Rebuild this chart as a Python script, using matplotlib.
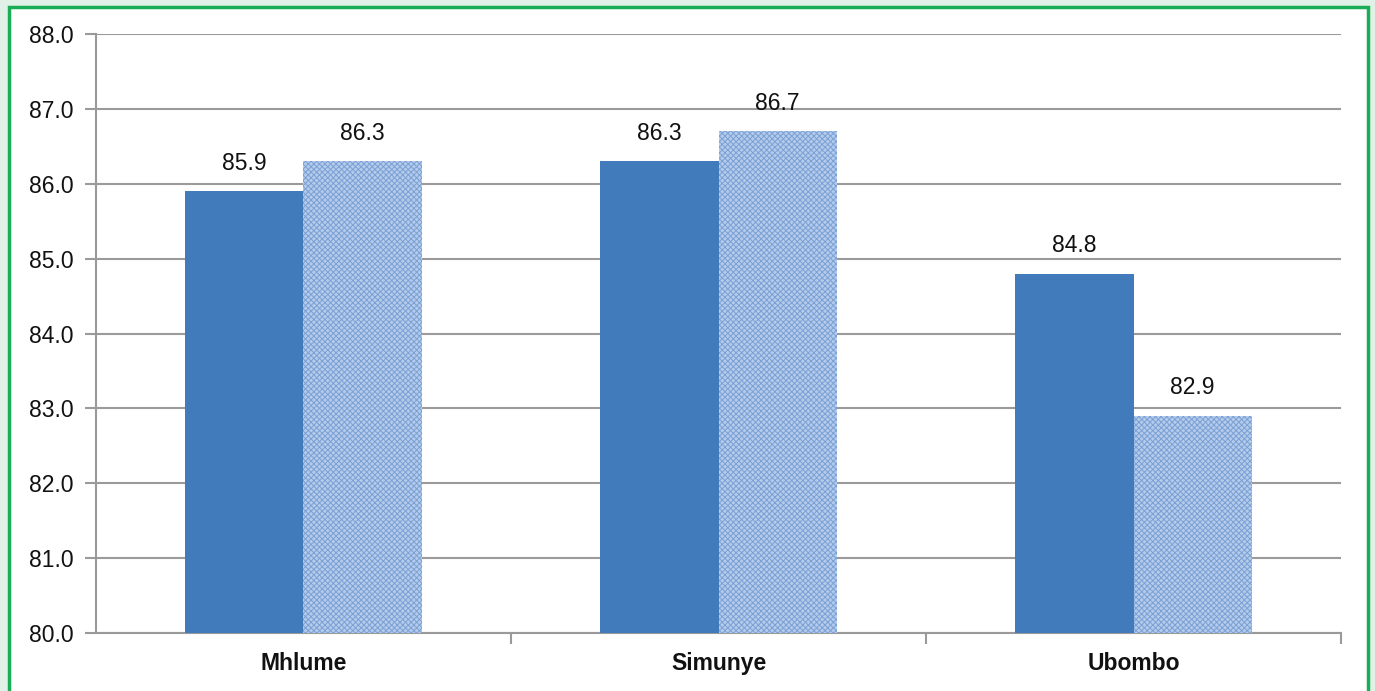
import numpy as np
import matplotlib.pyplot as plt
from matplotlib.patches import Rectangle

plt.rcParams['font.family'] = ['Liberation Sans', 'DejaVu Sans']
plt.rcParams['hatch.linewidth'] = 0.7

# values per estate, two series
estates = ['Mhlume', 'Simunye', 'Ubombo']
serie_1 = [85.9, 86.3, 84.8]
serie_2 = [86.3, 86.7, 82.9]
yticks = [80.0, 81.0, 82.0, 83.0, 84.0, 85.0, 86.0, 87.0, 88.0]

fig = plt.figure(figsize=(13.75, 6.91), dpi=100)
fig.patch.set_facecolor('#e2f1e7')

# marco blanco con borde verde
fig.patches.append(Rectangle((0.0062, -0.02), 0.9887, 1.0095, transform=fig.transFigure,
                             facecolor='white', edgecolor='#19ad55', linewidth=2.5, zorder=-5))

ax = fig.add_axes([0.0698, 0.0839, 0.9055, 0.8669])
ax.set_facecolor('white')

x = np.arange(len(estates))
w = 0.285
ax.bar(x - w/2, serie_1, w, color='#427bbb', zorder=3)
ax.bar(x + w/2, serie_2, w, color='#b5cbea', edgecolor='#7aa0d6', hatch='xxxxxx',
       linewidth=0, zorder=3)

for xi, v in zip(x - w/2, serie_1):
    ax.text(xi, v + 0.22, f'{v:.1f}', ha='center', va='bottom', fontsize=16.5, color='#111111')
for xi, v in zip(x + w/2, serie_2):
    ax.text(xi, v + 0.22, f'{v:.1f}', ha='center', va='bottom', fontsize=16.5, color='#111111')

ax.set_ylim(80, 88)
ax.set_xlim(-0.5, 2.5)
ax.set_yticks(yticks)
ax.set_yticklabels([f'{t:.1f}' for t in yticks], fontsize=16.5, color='#111111')
ax.yaxis.grid(True, color='#9a9a9a', linewidth=1.5, zorder=0)
ax.set_axisbelow(True)

ax.set_xticks(x)
ax.set_xticklabels(estates, fontsize=16.5, fontweight='bold', color='#111111')
ax.tick_params(axis='x', length=0, pad=14)
ax.set_xticks([0.5, 1.5, 2.5], minor=True)
ax.tick_params(axis='x', which='minor', length=8, color='#9a9a9a', width=1.5)
ax.tick_params(axis='y', length=8, color='#9a9a9a', width=1.5, pad=8)

for s in ['top', 'right']:
    ax.spines[s].set_visible(False)
for s in ['left', 'bottom']:
    ax.spines[s].set_color('#9a9a9a')
    ax.spines[s].set_linewidth(1.5)

plt.savefig('out.png', dpi=100, facecolor=fig.get_facecolor())
